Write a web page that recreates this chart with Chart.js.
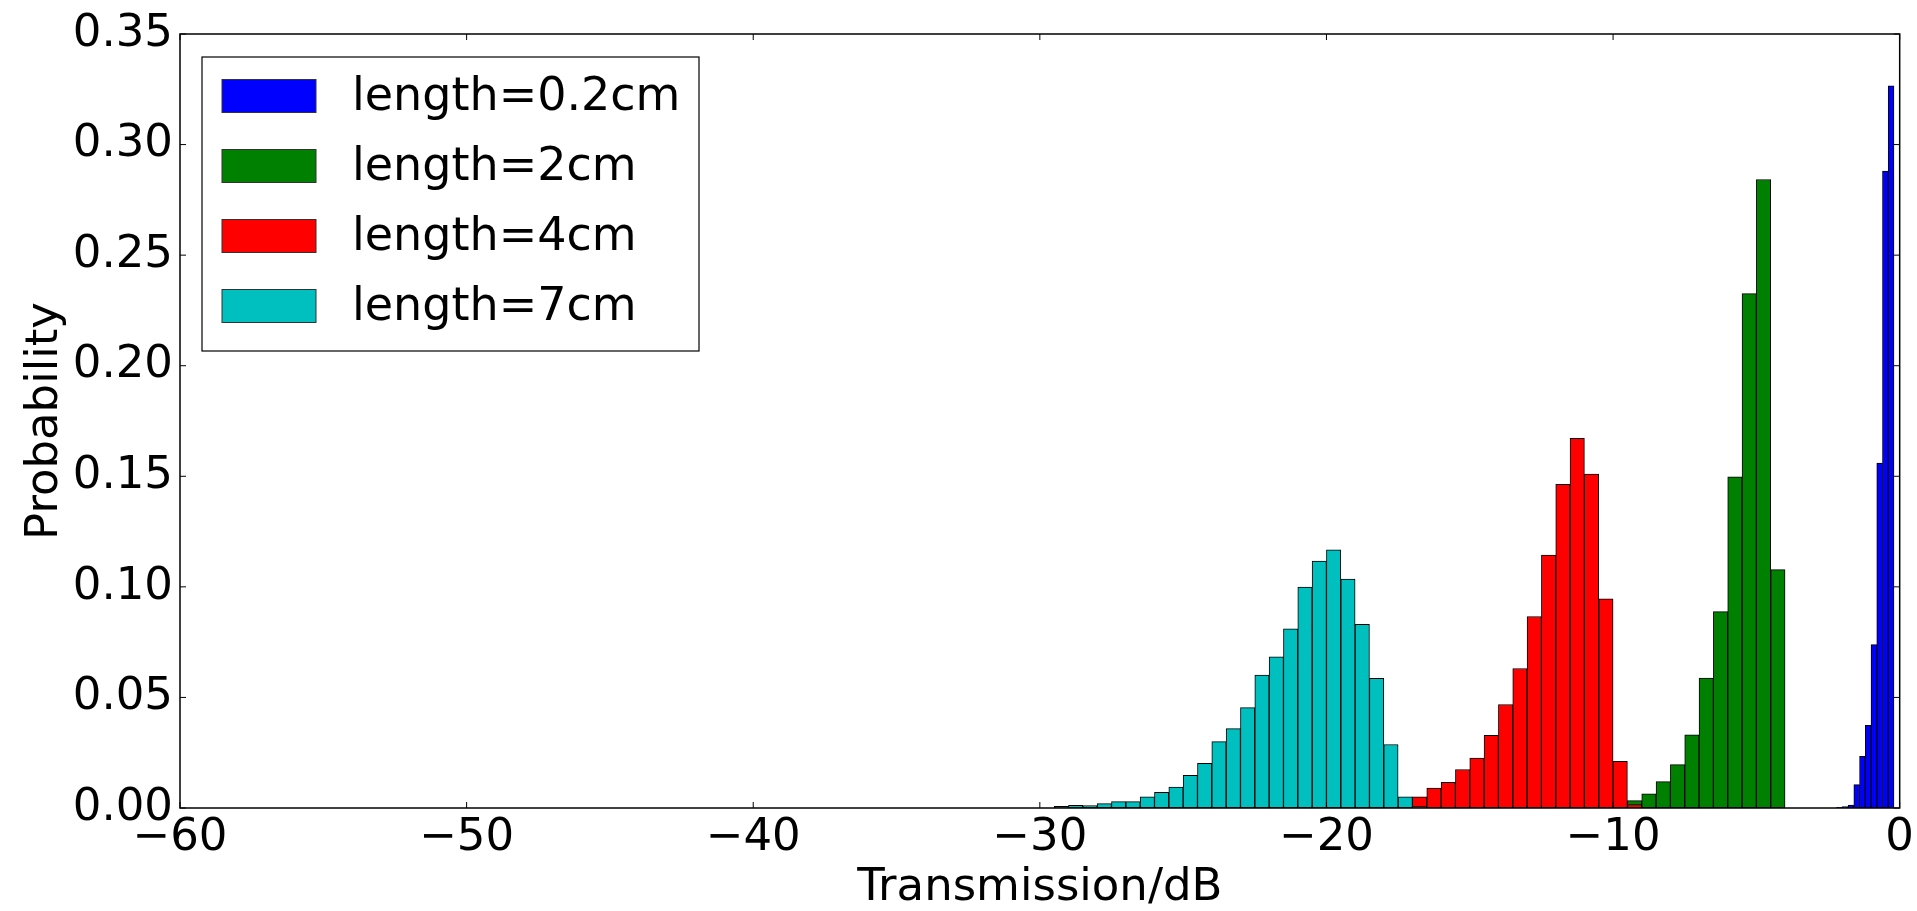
<!DOCTYPE html>
<html>
<head>
<meta charset="utf-8">
<script src="https://cdn.jsdelivr.net/npm/chart.js@4.4.1/dist/chart.umd.min.js"></script>
<style>
  html, body { margin: 0; padding: 0; background: #fff; overflow: hidden; }
  #wrap { position: relative; width: 1917px; height: 911px; }
</style>
</head>
<body>
<div id="wrap"><canvas id="hist_chart"></canvas></div>
<script>
// === histogram data: one series per cable length ===
const seriesLabels = ['length=0.2cm', 'length=2cm', 'length=4cm', 'length=7cm'];
const seriesColors = ['#0000ff', '#008000', '#ff0000', '#00bfbf'];

// left edge of the first bin and bin width, in dB
const binStart = [-2.2, -9.5, -17.0, -29.5];
const binWidth = [0.2, 0.5, 0.5, 0.5];

const prob02cm = [0.0003, 0.0006, 0.0013, 0.0106, 0.0234, 0.0374, 0.0739, 0.1560, 0.2880, 0.3266];
const prob2cm = [0.0033, 0.0064, 0.0119, 0.0196, 0.0331, 0.0588, 0.0888, 0.1498, 0.2326, 0.2842, 0.1078];
const prob4cm = [0.0050, 0.0090, 0.0116, 0.0174, 0.0226, 0.0329, 0.0468, 0.0631, 0.0866, 0.1144,
                 0.1464, 0.1672, 0.1510, 0.0946, 0.0211, 0.0015];
const prob7cm = [0.0007, 0.0012, 0.0011, 0.0020, 0.0029, 0.0029, 0.0051, 0.0071, 0.0095, 0.0148,
                 0.0202, 0.0300, 0.0359, 0.0454, 0.0601, 0.0684, 0.0810, 0.0999, 0.1117, 0.1168,
                 0.1035, 0.0830, 0.0586, 0.0287, 0.0050, 0.0006];
const seriesProb = [prob02cm, prob2cm, prob4cm, prob7cm];

const xTicks = [-60, -50, -40, -30, -20, -10, 0];
const yTicks = [0.00, 0.05, 0.10, 0.15, 0.20, 0.25, 0.30, 0.35];

const FONT = 'DejaVu Sans';

// each histogram gets its own (hidden) x axis so bar width follows its own bin spacing
const axisIds = ['x', 'xGreen', 'xRed', 'xCyan'];

const datasets = seriesProb.map((probs, s) => ({
    label: seriesLabels[s],
    xAxisID: axisIds[s],
    data: probs.map((p, i) => ({ x: binStart[s] + (i + 0.5) * binWidth[s], y: p })),
    backgroundColor: seriesColors[s],
    borderColor: '#000',
    borderWidth: 1,
    borderSkipped: false,
    grouped: false,
    barPercentage: 1,
    categoryPercentage: 1,
    // blue first, cyan last (on top)
    order: 3 - s
}));

const minusFmt = v => (v < 0 ? '\u2212' + Math.abs(v) : String(v));

const hiddenX = {
    type: 'linear',
    display: false,
    offset: false,
    min: xTicks[0],
    max: xTicks[xTicks.length - 1]
};

// matplotlib-like frame: box on four sides, ticks pointing inwards, boxed legend
const framePlugin = {
    id: 'mplFrame',
    afterDraw(chart) {
        const { ctx, chartArea: a, scales } = chart;
        const tl = 6;
        ctx.save();
        ctx.strokeStyle = '#000';
        ctx.lineWidth = 1.5;
        ctx.strokeRect(a.left, a.top, a.right - a.left, a.bottom - a.top);

        ctx.lineWidth = 1;
        ctx.beginPath();
        scales.x.ticks.forEach(t => {
            const px = scales.x.getPixelForValue(t.value);
            ctx.moveTo(px, a.bottom); ctx.lineTo(px, a.bottom - tl);
            ctx.moveTo(px, a.top); ctx.lineTo(px, a.top + tl);
        });
        scales.y.ticks.forEach(t => {
            const py = scales.y.getPixelForValue(t.value);
            ctx.moveTo(a.left, py); ctx.lineTo(a.left + tl, py);
            ctx.moveTo(a.right, py); ctx.lineTo(a.right - tl, py);
        });
        ctx.stroke();

        // legend
        const box = { left: 202, top: 57, right: 699, bottom: 351 };
        ctx.fillStyle = '#fff';
        ctx.fillRect(box.left, box.top, box.right - box.left, box.bottom - box.top);
        ctx.strokeStyle = '#000';
        ctx.lineWidth = 1.2;
        ctx.strokeRect(box.left, box.top, box.right - box.left, box.bottom - box.top);
        ctx.font = '46px "' + FONT + '"';
        ctx.textBaseline = 'middle';
        ctx.textAlign = 'left';
        chart.data.datasets.forEach((ds, i) => {
            const cy = 96 + i * 70;
            ctx.fillStyle = ds.backgroundColor;
            ctx.fillRect(222, cy - 16.5, 94, 33);
            ctx.lineWidth = 1;
            ctx.strokeStyle = '#333';
            ctx.strokeRect(222, cy - 16.5, 94, 33);
            ctx.fillStyle = '#000';
            ctx.fillText(ds.label, 352, cy + 2);
        });
        ctx.restore();
    }
};

const HistConfig = {
    type: 'bar',
    data: { datasets: datasets },
    options: {
        responsive: true,
        maintainAspectRatio: false,
        animation: false,
        layout: {
            autoPadding: false,
            padding: { top: 34, right: 16, bottom: 0, left: 0 }
        },
        plugins: {
            legend: { display: false },
            tooltip: { enabled: false }
        },
        scales: {
            x: {
                type: 'linear',
                position: 'bottom',
                offset: false,
                min: xTicks[0],
                max: xTicks[xTicks.length - 1],
                grid: { display: false, drawTicks: false },
                border: { display: false },
                ticks: {
                    stepSize: xTicks[1] - xTicks[0],
                    autoSkip: false,
                    maxRotation: 0,
                    padding: 3,
                    color: '#000',
                    font: { family: FONT, size: 45 },
                    callback: minusFmt
                },
                title: {
                    display: true,
                    text: 'Transmission/dB',
                    color: '#000',
                    font: { family: FONT, size: 45, lineHeight: 1 },
                    padding: { top: 0, bottom: 0 }
                },
                afterFit: s => { s.height = 103; }
            },
            xGreen: hiddenX,
            xRed: hiddenX,
            xCyan: hiddenX,
            y: {
                min: yTicks[0],
                max: yTicks[yTicks.length - 1],
                grid: { display: false, drawTicks: false },
                border: { display: false },
                ticks: {
                    stepSize: yTicks[1] - yTicks[0],
                    autoSkip: false,
                    padding: 7,
                    color: '#000',
                    font: { family: FONT, size: 45 },
                    callback: v => v.toFixed(2)
                },
                title: {
                    display: true,
                    text: 'Probability',
                    color: '#000',
                    font: { family: FONT, size: 45, lineHeight: 1 },
                    padding: { top: 23, bottom: 0 }
                },
                afterFit: s => { s.width = 180; }
            }
        }
    },
    plugins: [framePlugin]
};

// === display chart ===
var myHistChart = new Chart(
    document.getElementById('hist_chart'),
    HistConfig
);
</script>
</body>
</html>
